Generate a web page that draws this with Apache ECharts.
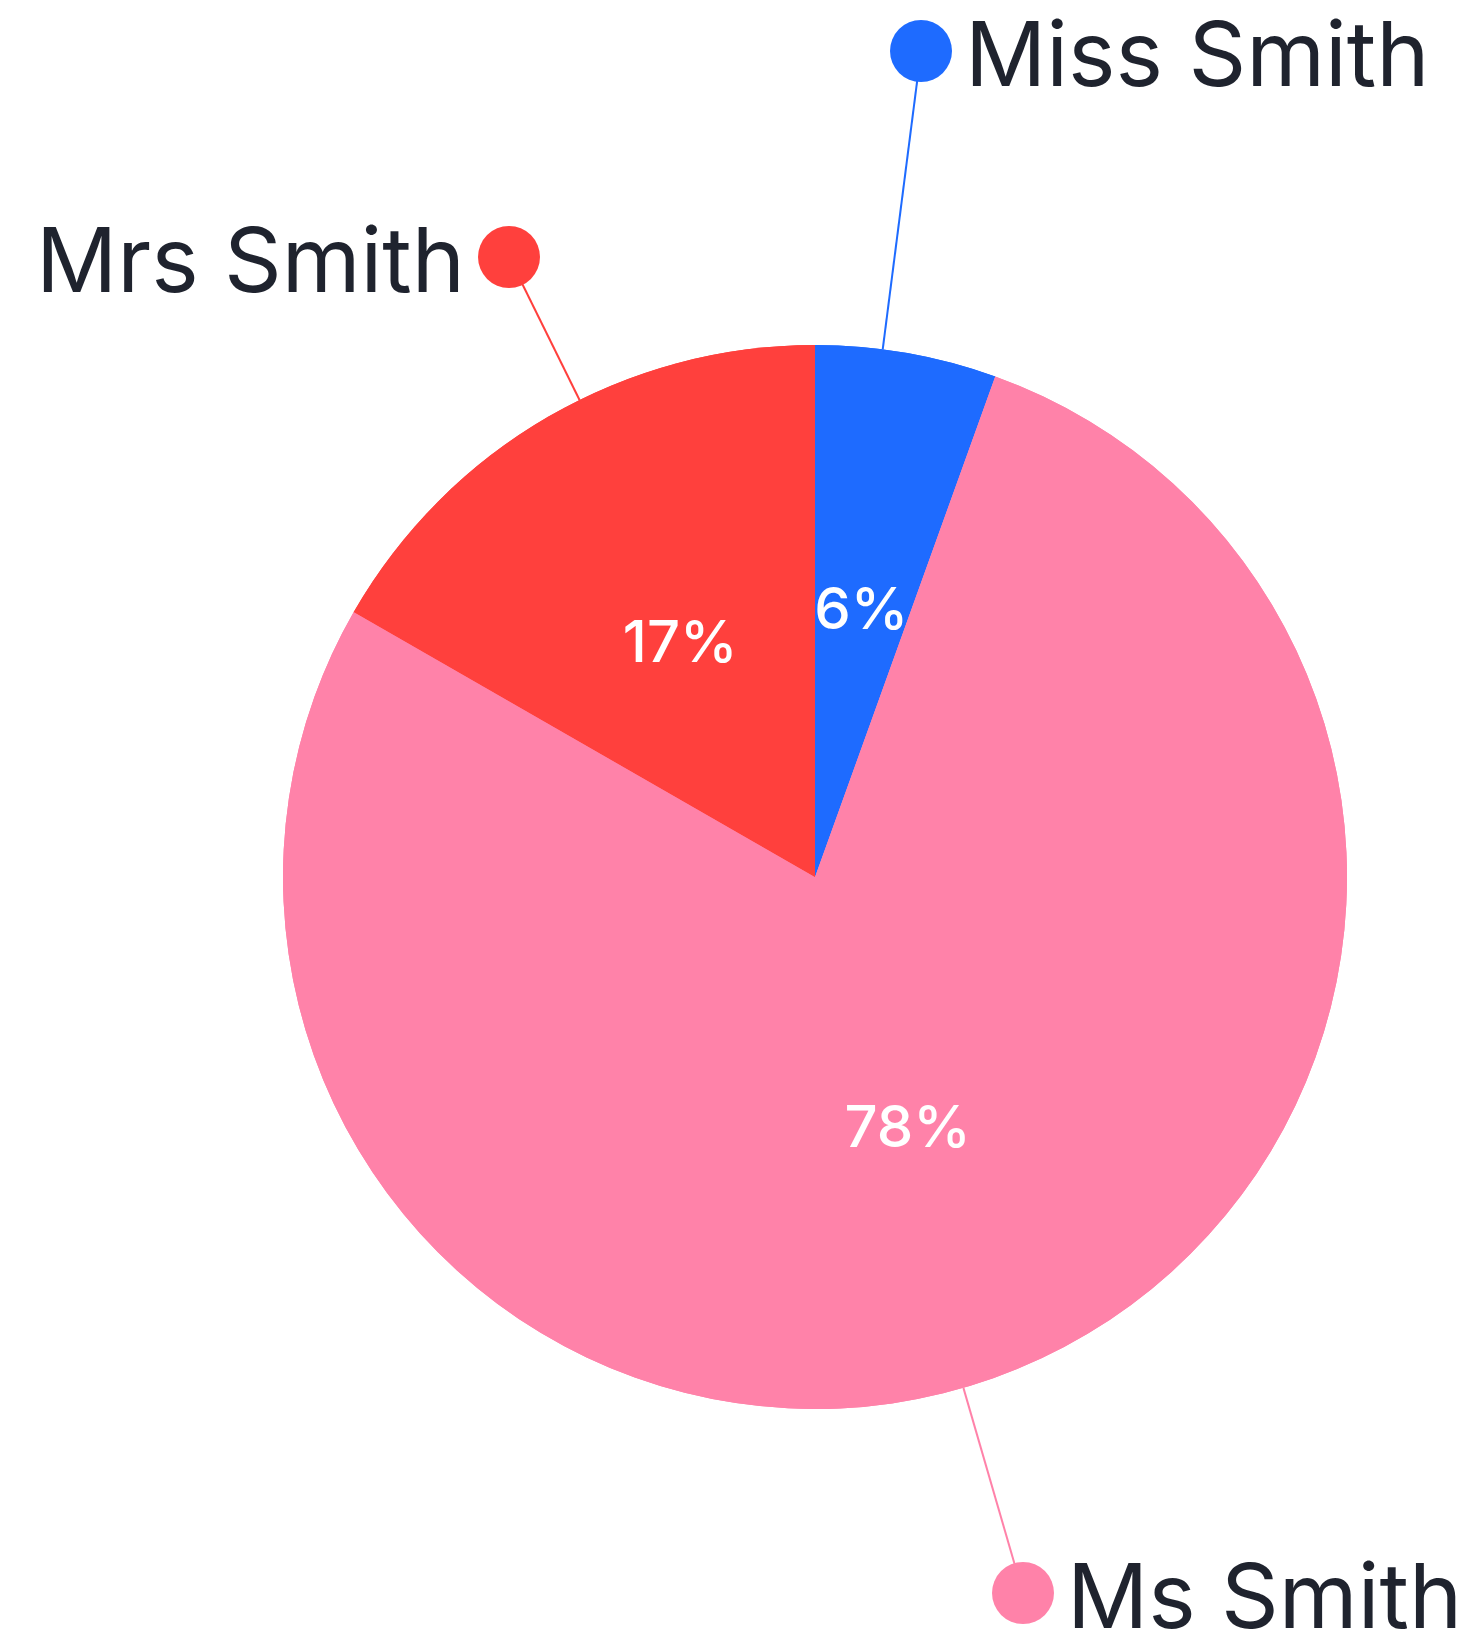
<!DOCTYPE html>
<html>
<head>
<meta charset="utf-8">
<script src="https://cdn.jsdelivr.net/npm/echarts@6/dist/echarts.min.js"></script>
<style>
  html, body { margin: 0; padding: 0; background: #ffffff; }
  #chart { width: 1475px; height: 1641px; }
</style>
</head>
<body>
<div id="chart"></div>
<script>
// ---- data ----
const categories = ['Miss Smith', 'Ms Smith', 'Mrs Smith'];
const shares = [5.5, 77.8, 16.7];           // percent of total

// ---- layout / styling (not data) ----
const sliceColors = ['#1E6BFF', '#FF82A9', '#FF403D'];
const PIE_CENTER = [815, 877];
const PIE_RADIUS = 532;
const labelAnchors = [[921, 51], [1023, 1593], [509, 257]]; // where each callout dot sits
const DOT_R = 31;

const FONT = 'Inter, "Noto Sans", sans-serif';
const TEXT_DARK = '#1F232E';

const chart = echarts.init(document.getElementById('chart'), null, { renderer: 'canvas' });

const rich = {
  name: { fontSize: 90, fontFamily: FONT, color: TEXT_DARK, lineHeight: 110, padding: [15, 0, 0, 0] },
  gap: { width: 13 }
};
sliceColors.forEach((c, i) => {
  rich['dot' + i] = { width: DOT_R * 2, height: DOT_R * 2, borderRadius: DOT_R, backgroundColor: c };
});

const outerData = categories.map((name, i) => {
  const onLeft = labelAnchors[i][0] < PIE_CENTER[0];
  return {
    name: name,
    value: shares[i],
    itemStyle: { color: sliceColors[i] },
    label: {
      formatter: onLeft ? '{name|{b}}{gap|}{dot' + i + '|}' : '{dot' + i + '|}{gap|}{name|{b}}'
    },
    labelLine: { lineStyle: { color: sliceColors[i], width: 2 } }
  };
});

const innerData = categories.map((name, i) => ({
  name: name,
  value: shares[i],
  itemStyle: { color: sliceColors[i] }
}));

function calloutLayout(params) {
  const i = params.dataIndex;
  const ax = labelAnchors[i][0], ay = labelAnchors[i][1];
  const onLeft = ax < PIE_CENTER[0];
  const dx = ax - PIE_CENTER[0], dy = ay - PIE_CENTER[1];
  const d = Math.sqrt(dx * dx + dy * dy);
  const sx = PIE_CENTER[0] + PIE_RADIUS * dx / d;
  const sy = PIE_CENTER[1] + PIE_RADIUS * dy / d;
  return {
    x: onLeft ? ax + DOT_R : ax - DOT_R,
    y: ay,
    align: onLeft ? 'right' : 'left',
    verticalAlign: 'middle',
    labelLinePoints: [[sx, sy], [ax, ay], [ax, ay]]
  };
}

chart.setOption({
  animation: false,
  backgroundColor: '#ffffff',
  series: [
    {
      type: 'pie',
      silent: true,
      center: PIE_CENTER,
      radius: [0, PIE_RADIUS],
      startAngle: 90,
      clockwise: true,
      avoidLabelOverlap: false,
      itemStyle: { borderWidth: 0 },
      label: { show: true, position: 'outside', rich: rich },
      labelLine: { show: true, length: 20, length2: 0 },
      labelLayout: calloutLayout,
      data: outerData
    },
    {
      type: 'pie',
      silent: true,
      center: PIE_CENTER,
      radius: [0, PIE_RADIUS],
      startAngle: 90,
      clockwise: true,
      avoidLabelOverlap: false,
      itemStyle: { borderWidth: 0 },
      label: {
        show: true,
        position: 'inside',
        color: '#ffffff',
        fontSize: 58,
        fontFamily: FONT,
        fontWeight: 500,
        formatter: p => Math.round(p.value) + '%'
      },
      labelLine: { show: false },
      data: innerData
    }
  ]
});
</script>
</body>
</html>
